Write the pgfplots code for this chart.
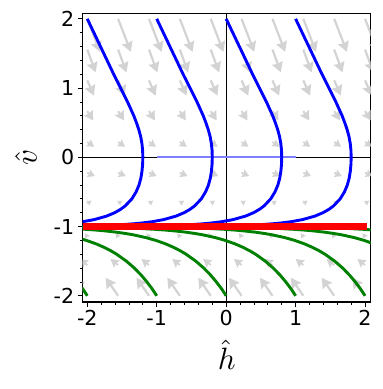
\documentclass[border=0pt]{standalone}
\usepackage{fontspec}
\setmainfont{DejaVu Sans}
\usepackage{graphicx}
\usepackage{pgfplots}
\usepackage{pgfplotstable}
\pgfplotsset{compat=1.18}
\usetikzlibrary{arrows.meta}
\definecolor{qgray}{RGB}{211,211,211}
\definecolor{mblue}{RGB}{0,0,255}
\definecolor{mgreen}{RGB}{0,128,0}
\definecolor{lblue}{RGB}{128,128,255}

% vector field: h v dh dv
\pgfplotstableread{
h v u w
-2.000 2.000 0.183 -0.477
-1.556 2.000 0.183 -0.477
-1.111 2.000 0.183 -0.477
-0.667 2.000 0.183 -0.477
-0.222 2.000 0.183 -0.477
0.222 2.000 0.183 -0.477
0.667 2.000 0.183 -0.477
1.111 2.000 0.183 -0.477
1.556 2.000 0.183 -0.477
2.000 2.000 0.183 -0.477
-2.000 1.556 0.120 -0.330
-1.556 1.556 0.120 -0.330
-1.111 1.556 0.120 -0.330
-0.667 1.556 0.120 -0.330
-0.222 1.556 0.120 -0.330
0.222 1.556 0.120 -0.330
0.667 1.556 0.120 -0.330
1.111 1.556 0.120 -0.330
1.556 1.556 0.120 -0.330
2.000 1.556 0.120 -0.330
-2.000 1.111 0.096 -0.220
-1.556 1.111 0.096 -0.220
-1.111 1.111 0.096 -0.220
-0.667 1.111 0.096 -0.220
-0.222 1.111 0.096 -0.220
0.222 1.111 0.096 -0.220
0.667 1.111 0.096 -0.220
1.111 1.111 0.096 -0.220
1.556 1.111 0.096 -0.220
2.000 1.111 0.096 -0.220
-2.000 0.667 0.086 -0.135
-1.556 0.667 0.086 -0.135
-1.111 0.667 0.086 -0.135
-0.667 0.667 0.086 -0.135
-0.222 0.667 0.086 -0.135
0.222 0.667 0.086 -0.135
0.667 0.667 0.086 -0.135
1.111 0.667 0.086 -0.135
1.556 0.667 0.086 -0.135
2.000 0.667 0.086 -0.135
-2.000 0.222 0.100 -0.070
-1.556 0.222 0.100 -0.070
-1.111 0.222 0.100 -0.070
-0.667 0.222 0.100 -0.070
-0.222 0.222 0.100 -0.070
0.222 0.222 0.100 -0.070
0.667 0.222 0.100 -0.070
1.111 0.222 0.100 -0.070
1.556 0.222 0.100 -0.070
2.000 0.222 0.100 -0.070
-2.000 -0.222 0.110 -0.050
-1.556 -0.222 0.110 -0.050
-1.111 -0.222 0.110 -0.050
-0.667 -0.222 0.110 -0.050
-0.222 -0.222 0.110 -0.050
0.222 -0.222 0.110 -0.050
0.667 -0.222 0.110 -0.050
1.111 -0.222 0.110 -0.050
1.556 -0.222 0.110 -0.050
2.000 -0.222 0.110 -0.050
-2.000 -0.667 0.060 0.040
-1.556 -0.667 0.060 0.040
-1.111 -0.667 0.060 0.040
-0.667 -0.667 0.060 0.040
-0.222 -0.667 0.060 0.040
0.222 -0.667 0.060 0.040
0.667 -0.667 0.060 0.040
1.111 -0.667 0.060 0.040
1.556 -0.667 0.060 0.040
2.000 -0.667 0.060 0.040
-2.000 -1.111 -0.030 -0.060
-1.556 -1.111 -0.030 -0.060
-1.111 -1.111 -0.030 -0.060
-0.667 -1.111 -0.030 -0.060
-0.222 -1.111 -0.030 -0.060
0.222 -1.111 -0.030 -0.060
0.667 -1.111 -0.030 -0.060
1.111 -1.111 -0.030 -0.060
1.556 -1.111 -0.030 -0.060
2.000 -1.111 -0.030 -0.060
-2.000 -1.556 -0.110 0.087
-1.556 -1.556 -0.110 0.087
-1.111 -1.556 -0.110 0.087
-0.667 -1.556 -0.110 0.087
-0.222 -1.556 -0.110 0.087
0.222 -1.556 -0.110 0.087
0.667 -1.556 -0.110 0.087
1.111 -1.556 -0.110 0.087
1.556 -1.556 -0.110 0.087
2.000 -1.556 -0.110 0.087
-2.000 -2.000 -0.180 0.260
-1.556 -2.000 -0.180 0.260
-1.111 -2.000 -0.180 0.260
-0.667 -2.000 -0.180 0.260
-0.222 -2.000 -0.180 0.260
0.222 -2.000 -0.180 0.260
0.667 -2.000 -0.180 0.260
1.111 -2.000 -0.180 0.260
1.556 -2.000 -0.180 0.260
2.000 -2.000 -0.180 0.260
}\fieldtable

\begin{document}
\begin{tikzpicture}
\begin{axis}[
  scale only axis, width=287.9bp, height=288.7bp,
  xmin=-2.066, xmax=2.08, ymin=-2.09, ymax=2.08,
  axis line style={line width=1.1bp},
  xtick={-2,-1,0,1,2}, xticklabels={-2,-1,0,1,2},
  ytick={-2,-1,0,1,2}, yticklabels={-2,-1,0,1,2},
  minor x tick num=4, minor y tick num=4,
  tick align=outside, xtick pos=bottom, ytick pos=left,
  major tick length=5bp, minor tick length=3bp,
  tick style={black, line width=0.8bp},
  ticklabel style={font=\fontsize{20.6bp}{24bp}\selectfont},
  xlabel={\scalebox{3.1}{$\hat{h}$}},
  ylabel={\scalebox{3.1}{$\hat{v}$}},
  xlabel style={at={(axis description cs:0.5,-0.2355)}, anchor=base, inner sep=0pt},
  ylabel style={at={(axis description cs:-0.1598,0.5)}, anchor=base, inner sep=0pt},
  clip=true,
]
\coordinate (bl) at (rel axis cs:0,0);
\coordinate (tr) at (rel axis cs:1,1);

% vector field rows
\addplot[qgray, line width=2.2bp, -{Stealth[length=10bp,width=11bp,inset=1bp]}, quiver={u=\thisrow{u}, v=\thisrow{w}}, restrict y to domain=1.9:2.1] table[x=h,y=v] {\fieldtable};
\addplot[qgray, line width=2.2bp, -{Stealth[length=10bp,width=11bp,inset=1bp]}, quiver={u=\thisrow{u}, v=\thisrow{w}}, restrict y to domain=1.5:1.6] table[x=h,y=v] {\fieldtable};
\addplot[qgray, line width=2.2bp, -{Stealth[length=10bp,width=11bp,inset=1bp]}, quiver={u=\thisrow{u}, v=\thisrow{w}}, restrict y to domain=1.0:1.2] table[x=h,y=v] {\fieldtable};
\addplot[qgray, line width=2bp, -{Stealth[length=9bp,width=10bp,inset=1bp]}, quiver={u=\thisrow{u}, v=\thisrow{w}}, restrict y to domain=0.6:0.7] table[x=h,y=v] {\fieldtable};
\addplot[qgray, line width=1.8bp, -{Stealth[length=7bp,width=8bp,inset=1bp]}, quiver={u=\thisrow{u}, v=\thisrow{w}}, restrict y to domain=0.2:0.3] table[x=h,y=v] {\fieldtable};
\addplot[qgray, line width=1.8bp, -{Stealth[length=7bp,width=8bp,inset=1bp]}, quiver={u=\thisrow{u}, v=\thisrow{w}}, restrict y to domain=-0.3:-0.2] table[x=h,y=v] {\fieldtable};
\addplot[qgray, line width=1.2bp, -{Stealth[length=4.5bp,width=5.5bp,inset=0.5bp]}, quiver={u=\thisrow{u}, v=\thisrow{w}}, restrict y to domain=-0.7:-0.6] table[x=h,y=v] {\fieldtable};
\addplot[qgray, line width=1.2bp, -{Stealth[length=4.5bp,width=5.5bp,inset=0.5bp]}, quiver={u=\thisrow{u}, v=\thisrow{w}}, restrict y to domain=-1.2:-1.05] table[x=h,y=v] {\fieldtable};
\addplot[qgray, line width=1.8bp, -{Stealth[length=8bp,width=9bp,inset=1bp]}, quiver={u=\thisrow{u}, v=\thisrow{w}}, restrict y to domain=-1.6:-1.5] table[x=h,y=v] {\fieldtable};
\addplot[qgray, line width=2.2bp, -{Stealth[length=10bp,width=11bp,inset=1bp]}, quiver={u=\thisrow{u}, v=\thisrow{w}}, restrict y to domain=-2.1:-1.9] table[x=h,y=v] {\fieldtable};

% axes lines through origin
\addplot[black, line width=0.9bp] coordinates {(-2.066,0) (2.08,0)};
\addplot[black, line width=0.9bp] coordinates {(0,-2.09) (0,2.08)};
\addplot[lblue, line width=1.8bp] coordinates {(-1,0) (1,0)};

% blue trajectories
\addplot[mblue, line width=2.9bp] coordinates {(-2.000,2.0) (-1.905,1.8) (-1.810,1.6) (-1.715,1.4) (-1.620,1.2) (-1.520,1.0) (-1.420,0.8) (-1.330,0.6) (-1.292,0.5) (-1.258,0.4) (-1.231,0.3) (-1.213,0.2) (-1.203,0.1) (-1.200,0) (-1.203,-0.1) (-1.212,-0.2) (-1.228,-0.3) (-1.255,-0.4) (-1.297,-0.5) (-1.358,-0.6) (-1.452,-0.7) (-1.518,-0.75) (-1.605,-0.8) (-1.724,-0.85) (-1.901,-0.9) (-2.065,-0.93) (-2.223,-0.95)};
\addplot[mblue, line width=2.9bp] coordinates {(-1.000,2.0) (-0.905,1.8) (-0.810,1.6) (-0.715,1.4) (-0.620,1.2) (-0.520,1.0) (-0.420,0.8) (-0.330,0.6) (-0.292,0.5) (-0.258,0.4) (-0.231,0.3) (-0.213,0.2) (-0.203,0.1) (-0.200,0) (-0.203,-0.1) (-0.212,-0.2) (-0.228,-0.3) (-0.255,-0.4) (-0.297,-0.5) (-0.358,-0.6) (-0.452,-0.7) (-0.518,-0.75) (-0.605,-0.8) (-0.724,-0.85) (-0.901,-0.9) (-1.065,-0.93) (-1.223,-0.95) (-1.329,-0.96) (-1.468,-0.97) (-1.666,-0.98) (-1.807,-0.985) (-2.008,-0.99) (-2.185,-0.993)};
\addplot[mblue, line width=2.9bp] coordinates {(0.000,2.0) (0.095,1.8) (0.190,1.6) (0.285,1.4) (0.380,1.2) (0.480,1.0) (0.580,0.8) (0.670,0.6) (0.708,0.5) (0.742,0.4) (0.769,0.3) (0.787,0.2) (0.797,0.1) (0.800,0) (0.797,-0.1) (0.788,-0.2) (0.772,-0.3) (0.745,-0.4) (0.703,-0.5) (0.642,-0.6) (0.548,-0.7) (0.482,-0.75) (0.395,-0.8) (0.276,-0.85) (0.099,-0.9) (-0.065,-0.93) (-0.223,-0.95) (-0.329,-0.96) (-0.468,-0.97) (-0.666,-0.98) (-0.807,-0.985) (-1.008,-0.99) (-1.185,-0.993) (-1.352,-0.995) (-1.607,-0.997) (-1.808,-0.998) (-2.154,-0.999)};
\addplot[mblue, line width=2.9bp] coordinates {(1.000,2.0) (1.095,1.8) (1.190,1.6) (1.285,1.4) (1.380,1.2) (1.480,1.0) (1.580,0.8) (1.670,0.6) (1.708,0.5) (1.742,0.4) (1.769,0.3) (1.787,0.2) (1.797,0.1) (1.800,0) (1.797,-0.1) (1.788,-0.2) (1.772,-0.3) (1.745,-0.4) (1.703,-0.5) (1.642,-0.6) (1.548,-0.7) (1.482,-0.75) (1.395,-0.8) (1.276,-0.85) (1.099,-0.9) (0.935,-0.93) (0.777,-0.95) (0.671,-0.96) (0.532,-0.97) (0.334,-0.98) (0.193,-0.985) (-0.008,-0.99) (-0.185,-0.993) (-0.352,-0.995) (-0.607,-0.997) (-0.808,-0.998) (-1.154,-0.999) (-1.500,-0.9995) (-1.960,-0.9998) (-2.300,-0.9999)};

% green trajectories
\addplot[mgreen, line width=2.9bp] coordinates {(-2,-2) (-2.066,-1.9) (-2.141,-1.8)};
\addplot[mgreen, line width=2.9bp] coordinates {(-1,-2) (-1.066,-1.9) (-1.141,-1.8) (-1.225,-1.7) (-1.322,-1.6) (-1.437,-1.5) (-1.577,-1.4) (-1.661,-1.35) (-1.759,-1.3) (-1.873,-1.25) (-2.014,-1.2) (-2.155,-1.16)};
\addplot[mgreen, line width=2.9bp] coordinates {(0,-2) (-0.066,-1.9) (-0.141,-1.8) (-0.225,-1.7) (-0.322,-1.6) (-0.437,-1.5) (-0.577,-1.4) (-0.661,-1.35) (-0.759,-1.3) (-0.873,-1.25) (-1.014,-1.2) (-1.155,-1.16) (-1.336,-1.12) (-1.451,-1.1) (-1.591,-1.08) (-1.772,-1.06) (-1.887,-1.05) (-2.028,-1.04) (-2.209,-1.03)};
\addplot[mgreen, line width=2.9bp] coordinates {(1,-2) (0.934,-1.9) (0.859,-1.8) (0.775,-1.7) (0.678,-1.6) (0.563,-1.5) (0.423,-1.4) (0.339,-1.35) (0.241,-1.3) (0.127,-1.25) (-0.014,-1.2) (-0.155,-1.16) (-0.336,-1.12) (-0.451,-1.1) (-0.591,-1.08) (-0.772,-1.06) (-0.887,-1.05) (-1.028,-1.04) (-1.209,-1.03) (-1.324,-1.025) (-1.465,-1.02) (-1.646,-1.015) (-1.901,-1.01) (-2.126,-1.007)};
\addplot[mgreen, line width=2.9bp] coordinates {(2,-2) (1.934,-1.9) (1.859,-1.8) (1.775,-1.7) (1.678,-1.6) (1.563,-1.5) (1.423,-1.4) (1.339,-1.35) (1.241,-1.3) (1.127,-1.25) (0.986,-1.2) (0.845,-1.16) (0.664,-1.12) (0.549,-1.1) (0.409,-1.08) (0.228,-1.06) (0.113,-1.05) (-0.028,-1.04) (-0.209,-1.03) (-0.324,-1.025) (-0.465,-1.02) (-0.646,-1.015) (-0.901,-1.01) (-1.126,-1.007) (-1.338,-1.005) (-1.660,-1.003) (-1.915,-1.002) (-2.352,-1.001)};
\addplot[mgreen, line width=2.9bp] coordinates {(2.423,-1.4) (2.339,-1.35) (2.241,-1.3) (2.127,-1.25) (1.986,-1.2) (1.845,-1.16) (1.664,-1.12) (1.549,-1.1) (1.409,-1.08) (1.228,-1.06) (1.113,-1.05) (0.972,-1.04) (0.791,-1.03) (0.676,-1.025) (0.535,-1.02) (0.354,-1.015) (0.099,-1.01) (-0.126,-1.007) (-0.338,-1.005) (-0.660,-1.003) (-0.915,-1.002) (-1.352,-1.001) (-2.110,-1.0003)};
\addplot[mgreen, line width=2.9bp] coordinates {(2.228,-1.06) (2.113,-1.05) (1.972,-1.04) (1.791,-1.03) (1.676,-1.025) (1.535,-1.02) (1.354,-1.015) (1.099,-1.01) (0.874,-1.007) (0.662,-1.005) (0.340,-1.003) (0.085,-1.002) (-0.352,-1.001)};

% red line
\addplot[red, line width=6.5bp] coordinates {(-2.066,-1) (2.027,-1)};
\end{axis}
\pgfresetboundingbox
\path ([xshift=-82.7bp,yshift=-87bp]bl) rectangle ([xshift=12.3bp,yshift=13.3bp]tr);
\end{tikzpicture}
\end{document}
